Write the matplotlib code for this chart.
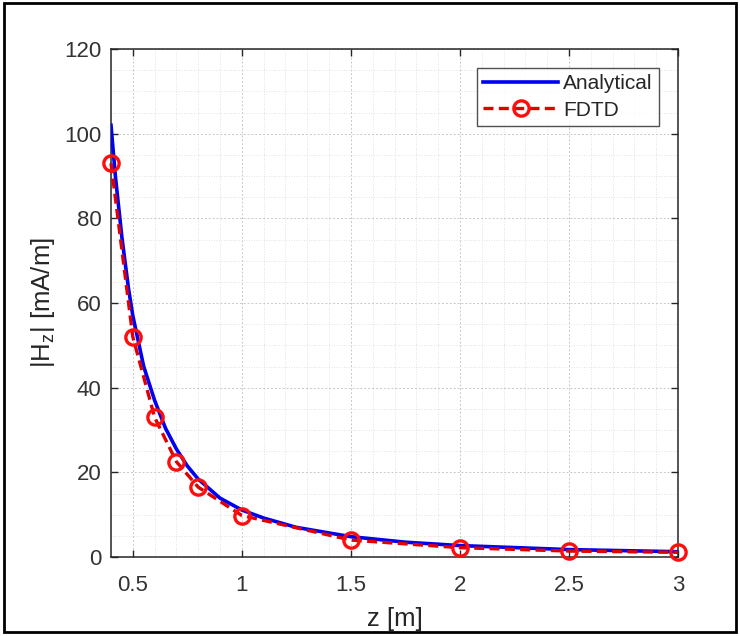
import matplotlib
matplotlib.use("Agg")
import matplotlib.pyplot as plt
from matplotlib.patches import Rectangle
from matplotlib.ticker import MultipleLocator

plt.rcParams['font.family'] = ['Liberation Sans', 'DejaVu Sans']
plt.rcParams['mathtext.fontset'] = 'custom'
plt.rcParams['mathtext.rm'] = 'Liberation Sans'
plt.rcParams['mathtext.it'] = 'Liberation Sans'

# Data
z_analytical = [0.4, 0.42, 0.45, 0.48, 0.5, 0.55, 0.6, 0.65, 0.7, 0.75, 0.8, 0.9, 1.0, 1.1, 1.25, 1.5, 1.75, 2.0, 2.5, 3.0]
h_analytical = [102, 90, 75.5, 63.5, 57, 45, 37, 30.4, 25.5, 21.5, 18.4, 13.9, 11.1, 9.2, 7.0, 4.8, 3.5, 2.7, 1.75, 1.25]
z_fdtd = [0.4, 0.5, 0.6, 0.7, 0.8, 1.0, 1.5, 2.0, 2.5, 3.0]
h_fdtd = [93, 52, 33, 22.5, 16.5, 9.8, 4.0, 2.2, 1.4, 1.1]
x_ticks = [0.5, 1, 1.5, 2, 2.5, 3]
x_tick_labels = ['0.5', '1', '1.5', '2', '2.5', '3']
y_ticks = [0, 20, 40, 60, 80, 100, 120]

fig = plt.figure(figsize=(7.4, 6.36), dpi=100)
ax = fig.add_axes([111/740, 79/636, 567/740, 508/636])

ax.plot(z_analytical, h_analytical, color=(0.0, 0.0, 0.95), lw=2.6, label='Analytical', zorder=3)
ax.plot(z_fdtd, h_fdtd, color=(0.88, 0.0, 0.0), lw=2.4, ls=(0, (3, 1.6)),
        marker='o', markersize=11, markerfacecolor='none', markeredgewidth=2.4,
        markeredgecolor=(1.0, 0.05, 0.05), label='FDTD', zorder=4, clip_on=False)

ax.set_xlim(0.4, 3)
ax.set_ylim(0, 120)
ax.set_xticks(x_ticks)
ax.set_xticklabels(x_tick_labels)
ax.set_yticks(y_ticks)
ax.xaxis.set_minor_locator(MultipleLocator(0.1))
ax.yaxis.set_minor_locator(MultipleLocator(5))

ax.grid(True, which='major', color='#c8c8c8', lw=0.7, ls=(0, (2, 2)))
ax.grid(True, which='minor', color='#d8d8d8', lw=0.6, ls=(0, (1, 2)))
ax.set_axisbelow(True)

ax.tick_params(which='major', direction='in', length=5, width=1, top=True, right=True,
               labelsize=16, labelcolor='#333333', color='#262626')
ax.tick_params(axis='x', which='major', pad=13)
ax.tick_params(axis='y', which='major', pad=7)
ax.tick_params(which='minor', length=0, top=True, right=True)
for s in ax.spines.values():
    s.set_color('#262626')
    s.set_linewidth(1.1)

ax.set_xlabel('z [m]', fontsize=18.5, color='#262626', labelpad=8)
ax.set_ylabel(r'|H$_{\mathrm{z}}$| [mA/m]', fontsize=18.5, color='#262626', labelpad=5)

leg = ax.legend(loc='upper right', bbox_to_anchor=(548/567, 489/508), fontsize=15,
                handlelength=3.6, frameon=True, fancybox=False, borderpad=0.3,
                labelspacing=0.35, handletextpad=0.25, borderaxespad=0)
leg.get_frame().set_edgecolor('#262626')
leg.get_frame().set_linewidth(1.0)
for t in leg.get_texts():
    t.set_color('#262626')

fig.patches.append(Rectangle((4/740, 4/636), 732/740, 629/636, transform=fig.transFigure,
                             fill=False, edgecolor='black', lw=2))

fig.savefig('out.png', dpi=100)
